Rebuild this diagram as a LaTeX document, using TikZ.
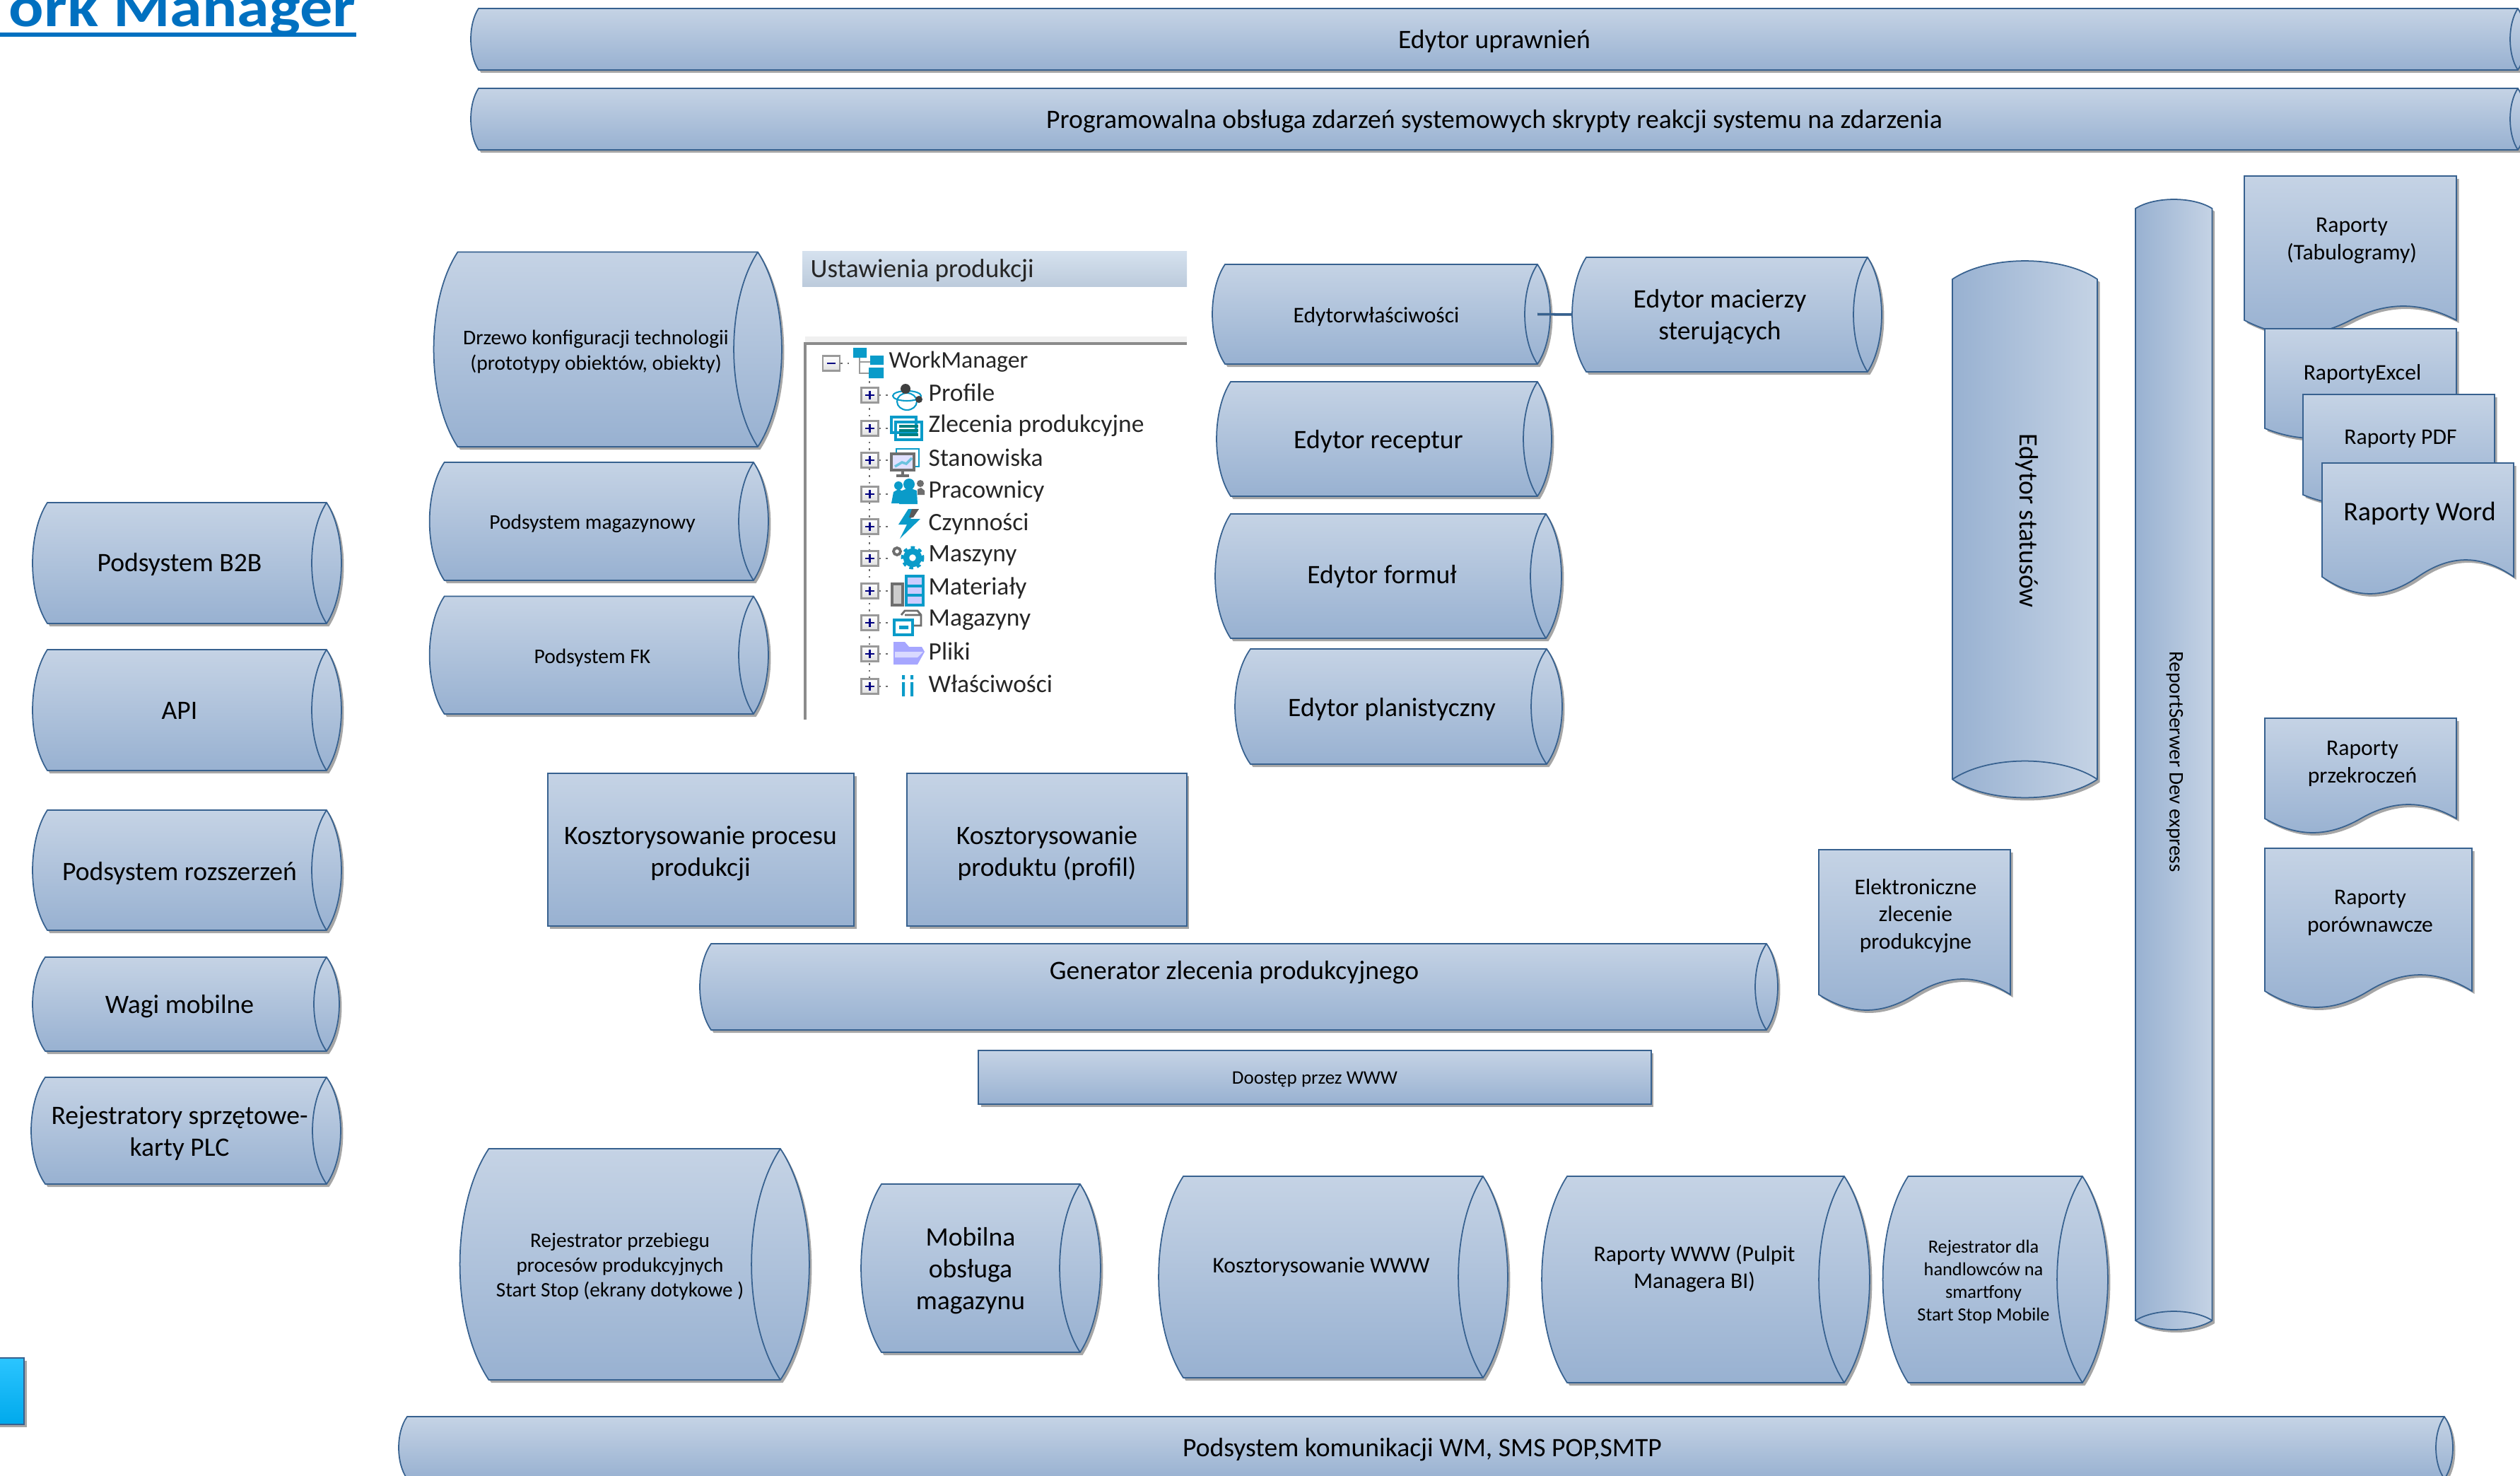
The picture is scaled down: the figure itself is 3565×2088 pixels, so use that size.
\documentclass[tikz,border=0pt]{standalone}
\usepackage{fontspec}
\usepackage{graphicx}
\setmainfont{Carlito}
\usetikzlibrary{shadows}
\definecolor{gora}{HTML}{C5D3E5}
\definecolor{dol}{HTML}{98B1D1}
\definecolor{ramka}{HTML}{37618F}
\definecolor{cien}{HTML}{A6A6A6}
\definecolor{ikona}{HTML}{0A9BC9}
\definecolor{szary}{HTML}{6E6E6E}
\definecolor{tytulowy}{HTML}{0070C0}
\newcommand{\rozmiar}[2]{\fontsize{#1}{#2}\selectfont}
\newcommand{\tubepath}[5]{(#1,#2) -- (#3,#2) .. controls ({#3+1.33*#5},{#2+.25*(#4-#2)}) and ({#3+1.33*#5},{#2+.75*(#4-#2)}) .. (#3,#4) -- (#1,#4) .. controls ({#1-1.33*#5},{#2+.75*(#4-#2)}) and ({#1-1.33*#5},{#2+.25*(#4-#2)}) .. (#1,#2) -- cycle}
\newcommand{\tube}[6]{%
  \coordinate (#1W) at ({#2-#6},{(#3+#5)/2});
  \coordinate (#1E) at (#4,{(#3+#5)/2});
  \fill[cienka] \tubepath{#2}{#3}{#4}{#5}{#6};
  \draw[bryla] \tubepath{#2}{#3}{#4}{#5}{#6};
  \draw[krawedz] (#4,#3) .. controls ({#4-1.33*#6},{#3+.25*(#5-#3)}) and ({#4-1.33*#6},{#3+.75*(#5-#3)}) .. (#4,#5);
}
\newcommand{\stojakpath}[5]{(#1,#2) .. controls ({#1+.25*(#3-#1)},{#2-1.33*#5}) and ({#1+.75*(#3-#1)},{#2-1.33*#5}) .. (#3,#2) -- (#3,#4) .. controls ({#1+.75*(#3-#1)},{#4+1.33*#5}) and ({#1+.25*(#3-#1)},{#4+1.33*#5}) .. (#1,#4) -- cycle}
\newcommand{\stojak}[6]{%
  \fill[cienka] \stojakpath{#2}{#3}{#4}{#5}{#6};
  \draw[krawedz, left color=dol, right color=gora] \stojakpath{#2}{#3}{#4}{#5}{#6};
  \draw[krawedz] (#2,#5) .. controls ({#2+.25*(#4-#2)},{#5-1.33*#6}) and ({#2+.75*(#4-#2)},{#5-1.33*#6}) .. (#4,#5);
}
\newcommand{\dokupath}[5]{(#1,#2) -- (#3,#2) -- (#3,#4) .. controls ({#3-.17*(#3-#1)},{#4-1.33*#5}) and ({(#1+#3)/2+.17*(#3-#1)},{#4-1.33*#5}) .. ({(#1+#3)/2},#4) .. controls ({(#1+#3)/2-.17*(#3-#1)},{#4+1.33*#5}) and ({#1+.17*(#3-#1)},{#4+1.33*#5}) .. (#1,#4) -- cycle}
\newcommand{\doku}[5]{%
  \fill[cienka] \dokupath{#1}{#2}{#3}{#4}{#5};
  \draw[bryla] \dokupath{#1}{#2}{#3}{#4}{#5};
}
\begin{document}
\begin{tikzpicture}[x=0.01cm, y=-0.01cm,
    krawedz/.style = {draw=ramka, line width=0.5pt},
    bryla/.style = {krawedz, top color=gora, bottom color=dol},
    cienka/.style = {cien, xshift=0.035cm, yshift=-0.04cm},
    lbl/.style = {align=center, inner sep=0pt, text=black, yshift=-0.035cm, font=\rozmiar{10.7}{12.8}},
    lblm/.style = {lbl, font=\rozmiar{9}{11}},
    lbls/.style = {lbl, font=\rozmiar{8.4}{10.2}},
    lblx/.style = {lbl, font=\rozmiar{7.5}{9.1}},
    pion/.style = {lbl, rotate=-90, yshift=0.035cm},
    kafel/.style = {bryla, inner sep=0pt,
      drop shadow={shadow xshift=0.035cm, shadow yshift=-0.04cm, fill=cien, opacity=1}},
    plusik/.style = {draw=szary!70, line width=0.6pt, top color=white, bottom color=gray!25, minimum width=0.24cm, minimum height=0.21cm, inner sep=0pt},
    wiersz/.style = {anchor=west, inner sep=0pt, yshift=-0.01cm, font=\rozmiar{10.1}{12}, text=black!85},
    kropki/.style = {szary, dotted, line width=0.7pt}]
\clip (0,0) rectangle (3565,2088);

\node[anchor=base east, inner sep=0pt, text=tytulowy, font=\bfseries\rozmiar{23}{26}] (tytul) at (504,38) {\scalebox{1.14}[1]{ork Manager}};
\fill[tytulowy] (0,46) rectangle (504,52);

\node[kafel, top color={rgb,255:red,43;green,197;blue,255}, bottom color={rgb,255:red,0;green,169;blue,236}, minimum width=1cm, minimum height=0.94cm] (przycisk) at (-16,1968) {};

\tube{edytorupr}{677}{12}{3562}{99}{11}
\tube{skrypty}{677}{125}{3562}{212}{11}
\node[lbl] (uprawnien) at (2114,55) {Edytor uprawnień};
\node[lbl] (zdarzenia) at (2114,168) {Programowalna obsługa zdarzeń systemowych skrypty reakcji systemu na zdarzenia};

\tube{b2b}{67}{711}{462}{882}{21}
\tube{api}{67}{919}{462}{1090}{21}
\tube{rozsz}{67}{1146}{462}{1316}{21}
\tube{wagi}{64}{1354}{462}{1487}{18}
\tube{plc}{64}{1524}{462}{1675}{20}
\node[lbl] (b2btxt) at (254,795) {Podsystem B2B};
\node[lbl] (apitxt) at (254,1002) {API};
\node[lbl] (rozsztxt) at (254,1232) {Podsystem rozszerzeń};
\node[lbl] (wagitxt) at (254,1420) {Wagi mobilne};
\node[lbl] (plctxt) at (254,1600) {Rejestratory sprzętowe-\\karty PLC};

\tube{drzewo}{647.5}{356.5}{1072}{632}{34}
\tube{magaz}{628.6}{654}{1066}{821}{21}
\tube{fk}{628.6}{843.6}{1066}{1010}{21}
\node[lbls] (drzewotxt) at (843,494) {Drzewo konfiguracji technologii\\(prototypy obiektów, obiekty)};
\node[lbls] (magaztxt) at (838,737) {Podsystem magazynowy};
\node[lbls] (fktxt) at (838,927) {Podsystem FK};

\shade[top color={rgb,255:red,213;green,225;blue,238}, bottom color={rgb,255:red,188;green,203;blue,220}] (1135,356) rectangle (1679,405);
\node[wiersz, font=\rozmiar{10.6}{12}] (naglowek) at (1146,382) {Ustawienia produkcji};
\fill[black!6] (1139,476) rectangle (1679,485);
\draw[szary!80, line width=0.9pt] (1139,1018) -- (1139,486) -- (1679,486);

\node[plusik] (p0) at (1176,514) {};
\coordinate (ic0) at (1207,514);
\draw[kropki] (p0) -- (ic0);
\draw[blue!50!black, line width=0.6pt] (1170,514) -- (1182,514);
\node[wiersz, font=\rozmiar{9.6}{12}] (t0) at (1257,511) {WorkManager};
\coordinate (korzen) at (1230,530);
\draw[kropki] (korzen) -- (1230,968);
\foreach \i/\yy/\nazwa in {1/554/Profile, 2/601/Zlecenia produkcyjne, 3/646/Stanowiska, 4/694/Pracownicy, 5/740/Czynności, 6/785/Maszyny, 7/831/Materiały, 8/876/Magazyny, 9/920/Pliki, 10/966/Właściwości} {
  \node[plusik] (p\i) at (1230.5,\yy+5) {};
  \draw[blue!50!black, line width=0.6pt] (1224,\yy+5) -- (1237,\yy+5) (1230.5,\yy-1) -- (1230.5,\yy+11);
  \coordinate (ic\i) at (1261,\yy+5);
  \draw[kropki] (p\i) -- (ic\i);
  \node[wiersz] (t\i) at (1313,\yy) {\nazwa};
}
\draw[szary!70, line width=0.8pt] (1216,500) -- (1216,528) -- (1235,528) (1216,512) -- (1235,512);
\fill[ikona] (1207,492) rectangle (1226,506) (1231,503) rectangle (1250,516) (1229,520) rectangle (1250,535);

\draw[ikona, line width=0.6pt] (1283,560) ellipse (20 and 7) (1283,568) ellipse (14 and 12);
\fill[black!75] (1281,550) circle (7) (1300,565) circle (5);

\draw[ikona, line width=1.2pt] (1261,590) rectangle (1296,612) (1267,597) rectangle (1304,622);
\draw[teal, line width=0.9pt] (1272,603) -- (1299,603) (1272,609) -- (1299,609) (1272,615) -- (1299,615);

\draw[ikona, line width=0.8pt] (1268,635) rectangle (1300,660);
\draw[szary, fill=blue!12, line width=1pt] (1261,642) rectangle (1293,665);
\draw[ikona!60, line width=1pt] (1266,660) -- (1276,654) -- (1282,656) -- (1290,648);
\draw[szary, line width=1pt] (1277,665) -- (1277,672) (1268,673) -- (1286,673);

\fill[ikona] (1261,712) -- (1264,696) -- (1271,692) -- (1280,696) -- (1282,712) -- cycle (1271,687) circle (6);
\fill[ikona] (1272,713) -- (1276,694) -- (1286,690) -- (1297,694) -- (1298,713) -- cycle (1286,685) circle (8);
\fill[szary] (1298,700) -- (1298,692) -- (1303,690) -- (1308,694) -- (1308,700) -- cycle (1302,684) circle (5);

\fill[ikona] (1285,720) -- (1271,742) -- (1283,742) -- (1273,762) -- (1302,734) -- (1288,734) -- (1300,720) -- cycle;
\fill[black!65] (1290,720) -- (1300,720) -- (1292,732) -- (1286,732) -- cycle;

\draw[ikona, line width=2.4pt] (1291,789) circle (9);
\draw[ikona, line width=1.4pt, dash pattern=on 1.5pt off 1.5pt] (1291,789) circle (14);
\draw[szary, line width=1.1pt] (1269,780) circle (5);

\draw[szary, fill=black!20, line width=1.2pt] (1262,826) rectangle (1277,856);
\draw[ikona, fill=blue!20, line width=1.2pt] (1282,815) rectangle (1306,856);
\draw[ikona, line width=1.2pt] (1282,829) -- (1306,829) (1282,842) -- (1306,842);

\draw[szary, line width=0.8pt] (1275,870) -- (1280,864) -- (1298,864) -- (1303,870) -- (1303,885) -- (1290,885) (1280,870) -- (1303,870);
\draw[ikona, fill=white, line width=1.2pt] (1265,877) rectangle (1291,898);
\fill[ikona] (1272,885) rectangle (1285,890) (1265,877) rectangle (1291,879);

\fill[blue!35] (1264,908) -- (1280,908) -- (1286,915) -- (1304,915) -- (1308,922) -- (1298,940) -- (1264,940) -- cycle;
\fill[blue!15] (1266,922) -- (1306,922) -- (1298,930) -- (1266,930) -- cycle;

\fill[ikona] (1276,955) rectangle (1280,961) (1288,955) rectangle (1292,961) (1276,965) rectangle (1280,985) (1288,965) rectangle (1292,985);

\tube{wlasc}{1733}{374}{2175}{515}{18}
\tube{macierz}{2244}{364}{2642}{526}{20}
\tube{receptur}{1741}{540}{2175}{702}{20}
\tube{formul}{1741}{727}{2187}{903}{22}
\tube{planist}{1769}{918}{2188}{1081}{22}
\draw[cien, line width=1pt, yshift=-0.035cm] (wlascE) -- (macierzW);
\draw[ramka, line width=1pt] (wlascE) -- (macierzW);
\node[lblm] (wlasctxt) at (1947,445) {Edytorwłaściwości};
\node[lbl] (macierztxt) at (2433,445) {Edytor macierzy\\sterujących};
\node[lbl] (recepturtxt) at (1950,621) {Edytor receptur};
\node[lbl] (formultxt) at (1955,812) {Edytor formuł};
\node[lbl] (planisttxt) at (1969,1000) {Edytor planistyczny};

\stojak{status}{2762}{395}{2967}{1102.5}{26}
\node[pion] (statustxt) at (2864,733) {Edytor statusów};
\stojak{serwer}{3021}{295}{3129.5}{1868}{13}
\node[pion, font=\rozmiar{8.3}{10}] (serwertxt) at (3073,1074) {ReportSerwer Dev express};

\doku{3175}{249}{3475}{453}{20}
\doku{3204}{465}{3475}{606}{14}
\doku{3258}{558}{3529}{700}{14}
\doku{3285}{655}{3556}{816}{24}
\doku{3204}{1016}{3475}{1158}{20}
\doku{3204}{1200}{3497}{1402}{23}
\doku{2573}{1202}{2844}{1407}{22}
\node[lblm] (tabultxt) at (3327,337) {Raporty\\(Tabulogramy)};
\node[lblm] (exceltxt) at (3342,526) {RaportyExcel};
\node[lblm] (pdftxt) at (3396,617) {Raporty PDF};
\node[lbl, font=\rozmiar{10.8}{12}] (wordtxt) at (3423,723) {Raporty Word};
\node[lblm] (przekrtxt) at (3342,1077) {Raporty\\przekroczeń};
\node[lblm] (porowntxt) at (3353,1288) {Raporty\\porównawcze};
\node[lblm] (elektrtxt) at (2710,1292) {Elektroniczne\\zlecenie\\produkcyjne};

\node[kafel, minimum width=4.33cm, minimum height=2.16cm] (proces) at (991.5,1202) {};
\node[kafel, minimum width=3.955cm, minimum height=2.16cm] (profil) at (1481,1202) {};
\node[lbl] (procestxt) at (991,1204) {Kosztorysowanie procesu\\produkcji};
\node[lbl] (profiltxt) at (1481,1204) {Kosztorysowanie\\produktu (profil)};
\tube{generator}{1006}{1335}{2499}{1457}{16}
\node[lbl] (generatortxt) at (1746,1372) {Generator zlecenia produkcyjnego};
\node[kafel, minimum width=9.51cm, minimum height=0.76cm] (doostep) at (1860,1524) {};
\node[lbl, font=\rozmiar{7.7}{9}] (doosteptxt) at (1860,1523) {Doostęp przez WWW};

\tube{przebieg}{691.5}{1625}{1104}{1952}{41}
\tube{mobilna}{1247}{1675}{1528}{1913}{29}
\tube{koszwww}{1674}{1664}{2098}{1949}{35}
\tube{rapwww}{2217}{1664}{2609}{1956}{36}
\tube{handl}{2699.5}{1664}{2946}{1956}{36}
\tube{komunik}{576}{2004}{3458}{2092}{12}
\node[lbls, font=\rozmiar{8.3}{10}] (przebiegtxt) at (877,1788) {Rejestrator przebiegu\\procesów produkcyjnych\\Start Stop (ekrany dotykowe )};
\node[lbl] (mobilnatxt) at (1373,1794) {Mobilna\\obsługa\\magazynu};
\node[lblm] (koszwwwtxt) at (1869,1789) {Kosztorysowanie WWW};
\node[lblm] (rapwwwtxt) at (2397,1791) {Raporty WWW (Pulpit\\Managera BI)};
\node[lblx] (handltxt) at (2806,1810) {Rejestrator dla\\handlowców na\\smartfony\\Start Stop Mobile};
\node[lbl] (komuniktxt) at (2012,2047) {Podsystem komunikacji WM, SMS POP,SMTP};
\end{tikzpicture}
\end{document}
